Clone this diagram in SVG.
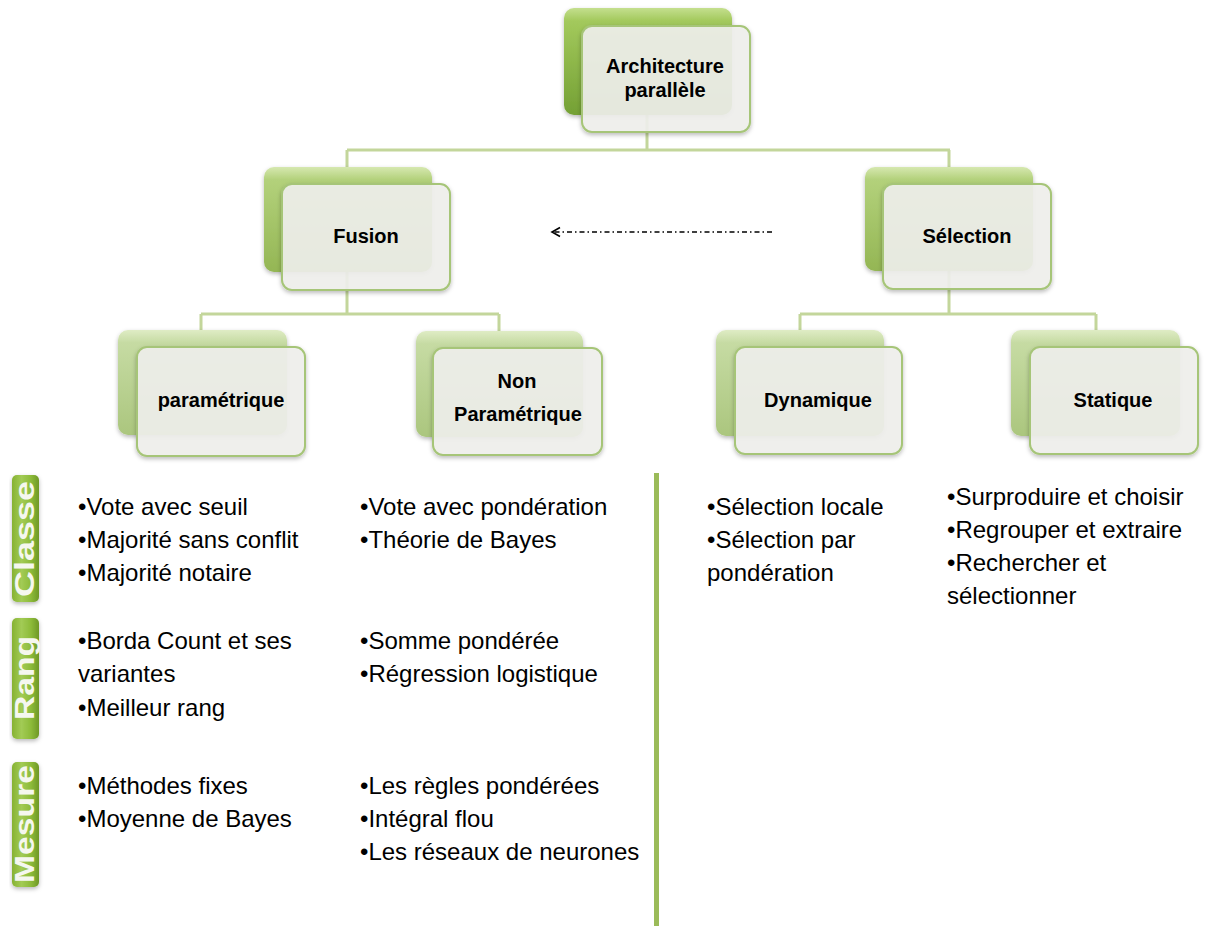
<svg xmlns="http://www.w3.org/2000/svg" width="1216" height="926" viewBox="0 0 1216 926">
  <defs>
    <linearGradient id="gTop" x1="0" y1="0" x2="0" y2="1">
      <stop offset="0" stop-color="#c4df8e"/>
      <stop offset="0.12" stop-color="#a3c95c"/>
      <stop offset="1" stop-color="#74a034"/>
    </linearGradient>
    <linearGradient id="gMid" x1="0" y1="0" x2="0" y2="1">
      <stop offset="0" stop-color="#d6e8b0"/>
      <stop offset="0.12" stop-color="#b3d17b"/>
      <stop offset="1" stop-color="#94b654"/>
    </linearGradient>
    <linearGradient id="gLow" x1="0" y1="0" x2="0" y2="1">
      <stop offset="0" stop-color="#dfecc5"/>
      <stop offset="0.12" stop-color="#c6dba3"/>
      <stop offset="1" stop-color="#abc67e"/>
    </linearGradient>
    <linearGradient id="gBar" x1="0" y1="0" x2="1" y2="0">
      <stop offset="0" stop-color="#86b232"/>
      <stop offset="0.35" stop-color="#a2cb55"/>
      <stop offset="0.7" stop-color="#8dbb3a"/>
      <stop offset="1" stop-color="#6e9826"/>
    </linearGradient>
    <filter id="shadow" x="-10%" y="-10%" width="125%" height="130%">
      <feDropShadow dx="0" dy="2" stdDeviation="2" flood-color="#000" flood-opacity="0.28"/>
    </filter>
    <marker id="openArrow" markerWidth="12" markerHeight="12" refX="9" refY="6" orient="auto" markerUnits="userSpaceOnUse">
      <path d="M1,1.5 L9,6 L1,10.5" fill="none" stroke="#000" stroke-width="1.6"/>
    </marker>
  </defs>
  <style>
    .back { stroke: none; filter: url(#shadow); }
    .front { fill: #f1f1ed; fill-opacity: 0.9; stroke: #a6c578; stroke-width: 2; filter: url(#shadow); }
    .label { font-family: "Liberation Sans", Arial, sans-serif; font-weight: bold; font-size: 20px; fill: #000; text-anchor: middle; }
    .conn { stroke: #c3d69b; stroke-width: 3; fill: none; }
    .item { font-family: "Liberation Sans", Arial, sans-serif; font-size: 24px; fill: #000; }
    .bar { fill: url(#gBar); filter: url(#shadow); }
    .barText { font-family: "Liberation Sans", Arial, sans-serif; font-weight: bold; font-size: 27px; fill: #f5f7ef; text-anchor: middle; }
  </style>
  <rect width="1216" height="926" fill="#ffffff"/>

  <!-- tree connectors -->
  <g id="connectors">
    <path class="conn" d="M647,115 V150 M347,150 H950 M347,150 V167 M949,150 V167"/>
    <path class="conn" d="M347,272 V314 M201,314 H499 M201,314 V330 M499,314 V331"/>
    <path class="conn" d="M949,270 V314 M800,314 H1096 M800,314 V330 M1096,314 V330"/>
    <path d="M772,232 H552" fill="none" stroke="#000" stroke-width="1.4" stroke-dasharray="5,3,1.5,3" marker-end="url(#openArrow)"/>
  </g>

  <!-- level 1 -->
  <g id="node-architecture">
    <rect class="back" x="564" y="8" width="168" height="107" rx="10" fill="url(#gTop)"/>
    <rect class="front" x="582" y="26" width="168" height="106" rx="10"/>
    <text class="label" x="665" y="73">Architecture</text>
    <text class="label" x="665" y="97">parallèle</text>
  </g>

  <!-- level 2 -->
  <g id="node-fusion">
    <rect class="back" x="264" y="167" width="168" height="105" rx="10" fill="url(#gMid)"/>
    <rect class="front" x="282" y="184" width="168" height="106" rx="10"/>
    <text class="label" x="366" y="243">Fusion</text>
  </g>
  <g id="node-selection">
    <rect class="back" x="865" y="167" width="168" height="104" rx="10" fill="url(#gMid)"/>
    <rect class="front" x="883" y="184" width="168" height="105" rx="10"/>
    <text class="label" x="967" y="243">Sélection</text>
  </g>

  <!-- level 3 -->
  <g id="node-parametrique">
    <rect class="back" x="118" y="330" width="169" height="105" rx="10" fill="url(#gLow)"/>
    <rect class="front" x="137" y="347" width="168" height="109" rx="10"/>
    <text class="label" x="221" y="407">paramétrique</text>
  </g>
  <g id="node-non-parametrique">
    <rect class="back" x="416" y="331" width="167" height="106" rx="10" fill="url(#gLow)"/>
    <rect class="front" x="433" y="348" width="169" height="107" rx="10"/>
    <text class="label" x="517" y="388">Non</text>
    <text class="label" x="518" y="421">Paramétrique</text>
  </g>
  <g id="node-dynamique">
    <rect class="back" x="716" y="330" width="168" height="106" rx="10" fill="url(#gLow)"/>
    <rect class="front" x="735" y="347" width="167" height="107" rx="10"/>
    <text class="label" x="818" y="407">Dynamique</text>
  </g>
  <g id="node-statique">
    <rect class="back" x="1011" y="330" width="169" height="106" rx="10" fill="url(#gLow)"/>
    <rect class="front" x="1030" y="347" width="168" height="107" rx="10"/>
    <text class="label" x="1113" y="407">Statique</text>
  </g>

  <!-- row labels -->
  <g id="row-classe">
    <rect class="bar" x="12" y="475" width="27" height="127" rx="5"/>
    <text class="barText" transform="translate(34,539) rotate(-90)" textLength="116" lengthAdjust="spacingAndGlyphs">Classe</text>
  </g>
  <g id="row-rang">
    <rect class="bar" x="12" y="618" width="27" height="121" rx="5"/>
    <text class="barText" transform="translate(34,678) rotate(-90)" textLength="84" lengthAdjust="spacingAndGlyphs">Rang</text>
  </g>
  <g id="row-mesure">
    <rect class="bar" x="12" y="762" width="27" height="125" rx="5"/>
    <text class="barText" transform="translate(34,824) rotate(-90)" textLength="118" lengthAdjust="spacingAndGlyphs">Mesure</text>
  </g>

  <!-- separator between fusion and selection columns -->
  <rect id="separator" x="654" y="473" width="5" height="453" fill="#9bbb59"/>

  <!-- fusion paramétrique -->
  <g id="list-parametrique">
    <text class="item" x="78" y="515">•Vote avec seuil</text>
    <text class="item" x="78" y="548">•Majorité sans conflit</text>
    <text class="item" x="78" y="581">•Majorité notaire</text>
    <text class="item" x="78" y="649">•Borda Count et ses</text>
    <text class="item" x="78" y="682">variantes</text>
    <text class="item" x="78" y="716">•Meilleur rang</text>
    <text class="item" x="78" y="794">•Méthodes fixes</text>
    <text class="item" x="78" y="827">•Moyenne de Bayes</text>
  </g>

  <!-- fusion non paramétrique -->
  <g id="list-non-parametrique">
    <text class="item" x="360" y="515">•Vote avec pondération</text>
    <text class="item" x="360" y="548">•Théorie de Bayes</text>
    <text class="item" x="360" y="649">•Somme pondérée</text>
    <text class="item" x="360" y="682">•Régression logistique</text>
    <text class="item" x="360" y="794">•Les règles pondérées</text>
    <text class="item" x="360" y="827">•Intégral flou</text>
    <text class="item" x="360" y="860">•Les réseaux de neurones</text>
  </g>

  <!-- sélection dynamique -->
  <g id="list-dynamique">
    <text class="item" x="707" y="515">•Sélection locale</text>
    <text class="item" x="707" y="548">•Sélection par</text>
    <text class="item" x="707" y="581">pondération</text>
  </g>

  <!-- sélection statique -->
  <g id="list-statique">
    <text class="item" x="947" y="505">•Surproduire et choisir</text>
    <text class="item" x="947" y="538">•Regrouper et extraire</text>
    <text class="item" x="947" y="571">•Rechercher et</text>
    <text class="item" x="947" y="604">sélectionner</text>
  </g>
</svg>
